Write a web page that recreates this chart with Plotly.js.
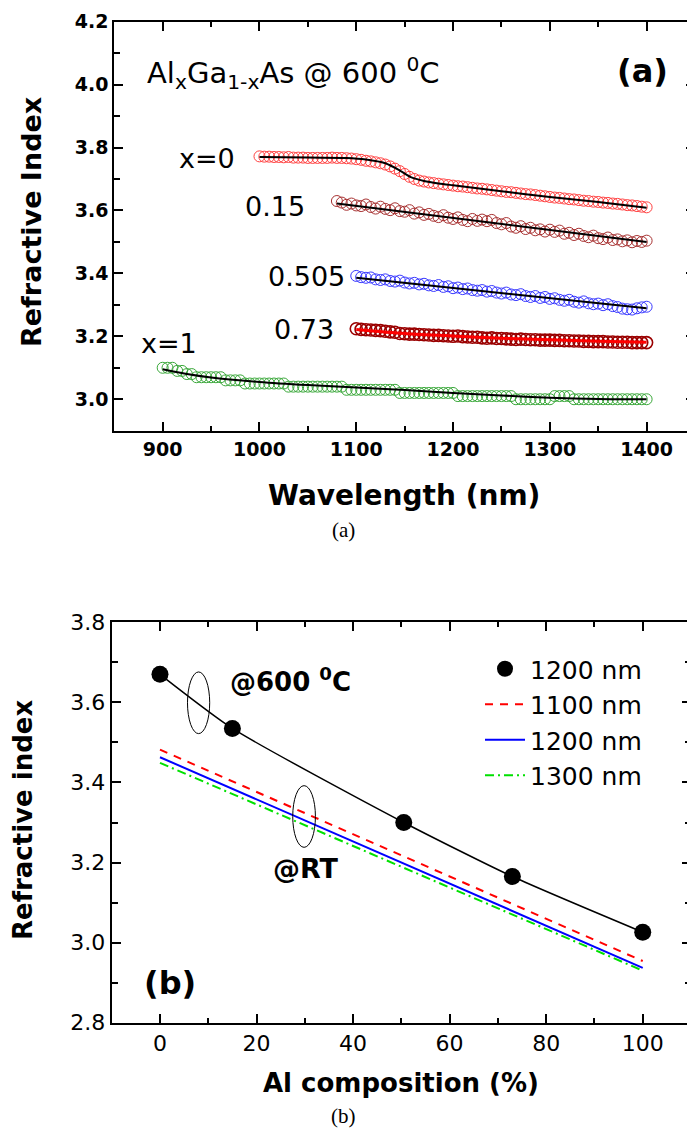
<!DOCTYPE html>
<html>
<head>
<meta charset="utf-8">
<script src="https://cdn.plot.ly/plotly-3.0.1.min.js"></script>
<style>
  html, body { margin: 0; padding: 0; background: #fff; overflow: hidden; }
  #plot { width: 700px; height: 1133px; }
</style>
</head>
<body>
<div id="plot"></div>
<script>
// ---------------- Panel (a) data: refractive index vs wavelength at 600 C ----------------
const WL = [900,905,910,915,920,925,930,935,940,945,950,955,960,965,970,975,980,985,990,995,
  1000,1005,1010,1015,1020,1025,1030,1035,1040,1045,1050,1055,1060,1065,1070,1075,1080,1085,1090,1095,
  1100,1105,1110,1115,1120,1125,1130,1135,1140,1145,1150,1155,1160,1165,1170,1175,1180,1185,1190,1195,
  1200,1205,1210,1215,1220,1225,1230,1235,1240,1245,1250,1255,1260,1265,1270,1275,1280,1285,1290,1295,
  1300,1305,1310,1315,1320,1325,1330,1335,1340,1345,1350,1355,1360,1365,1370,1375,1380,1385,1390,1395,1400];

const wl_x0   = WL.slice(20);   // 1000-1400
const wl_015  = WL.slice(36);   // 1080-1400
const wl_0505 = WL.slice(40);   // 1100-1400
const wl_073  = WL.slice(40);   // 1100-1400
const wl_x1   = WL;             // 900-1400

const n_x0 = [3.772,3.771,3.771,3.770,3.770,3.769,3.770,3.768,3.768,3.768,
  3.767,3.767,3.767,3.767,3.767,3.768,3.767,3.767,3.766,3.765,
  3.763,3.761,3.758,3.756,3.753,3.750,3.746,3.740,3.733,3.725,
  3.716,3.707,3.700,3.695,3.692,3.689,3.687,3.685,3.683,3.681,
  3.679,3.677,3.676,3.674,3.672,3.670,3.669,3.667,3.665,3.663,
  3.661,3.659,3.658,3.656,3.654,3.652,3.651,3.649,3.647,3.645,
  3.643,3.641,3.640,3.638,3.636,3.635,3.633,3.631,3.630,3.628,
  3.627,3.625,3.624,3.622,3.621,3.619,3.617,3.616,3.614,3.612,
  3.610];

const n_015 = [3.630,3.625,3.618,3.622,3.616,3.614,3.619,3.611,3.606,3.612,
  3.605,3.601,3.607,3.598,3.596,3.601,3.590,3.594,3.586,3.589,
  3.583,3.579,3.585,3.577,3.573,3.578,3.570,3.566,3.573,3.567,
  3.571,3.566,3.570,3.560,3.556,3.560,3.549,3.545,3.550,3.541,
  3.545,3.537,3.540,3.533,3.539,3.532,3.536,3.526,3.529,3.522,
  3.526,3.519,3.515,3.520,3.512,3.509,3.514,3.506,3.508,3.502,
  3.505,3.499,3.503,3.500,3.504];

const n_0505 = [3.392,3.388,3.386,3.387,3.381,3.379,3.381,3.376,3.374,3.377,
  3.371,3.368,3.370,3.365,3.367,3.362,3.360,3.363,3.357,3.359,
  3.353,3.355,3.350,3.352,3.347,3.345,3.347,3.342,3.344,3.339,
  3.336,3.339,3.333,3.331,3.334,3.328,3.325,3.328,3.322,3.325,
  3.319,3.321,3.316,3.313,3.316,3.310,3.307,3.311,3.305,3.302,
  3.304,3.299,3.302,3.296,3.293,3.288,3.286,3.285,3.289,3.292,
  3.294];

const n_073 = [3.224,3.222,3.221,3.220,3.219,3.218,3.216,3.214,3.213,3.209,
  3.208,3.207,3.207,3.206,3.205,3.204,3.203,3.203,3.202,3.201,
  3.200,3.201,3.199,3.198,3.197,3.197,3.195,3.194,3.195,3.193,
  3.193,3.192,3.191,3.190,3.191,3.190,3.189,3.189,3.188,3.188,
  3.188,3.187,3.187,3.186,3.186,3.185,3.185,3.184,3.184,3.183,
  3.183,3.183,3.182,3.182,3.181,3.181,3.181,3.180,3.180,3.180,
  3.180];

const n_x1 = [3.10,3.10,3.10,3.09,3.09,3.08,3.08,3.07,3.07,3.07,3.07,3.07,3.07,
  3.06,3.06,3.06,3.06,
  3.05,3.05,3.05,3.05,3.05,3.05,3.05,3.05,3.05,
  3.04,3.04,3.04,3.04,3.04,3.04,3.04,3.04,3.04,3.04,3.04,3.04,
  3.03,3.03,3.03,3.03,3.03,3.03,3.03,3.03,3.03,3.03,3.03,
  3.02,3.02,3.02,3.02,3.02,3.02,3.02,3.02,3.02,3.02,3.02,3.02,
  3.01,3.01,3.01,3.01,3.01,3.01,3.01,3.01,3.01,3.01,3.01,3.01,
  3.00,3.00,3.00,3.00,3.00,3.00,3.00,3.00,
  3.01,3.01,3.01,3.01,
  3.00,3.00,3.00,3.00,3.00,3.00,3.00,3.00,3.00,3.00,3.00,3.00,3.00,3.00,3.00,3.00];

// fitted curves (panel a)
const fit_x0_wl = [1000,1050,1090,1110,1130,1145,1157,1170,1185,1200,1250,1300,1350,1400];
const fit_x0_n  = [3.770,3.768,3.767,3.762,3.750,3.727,3.705,3.694,3.686,3.680,3.661,3.643,3.627,3.609];
const fit_015_wl = [1080,1400];
const fit_015_n  = [3.622,3.500];
const fit_0505_wl = [1100,1400];
const fit_0505_n  = [3.386,3.289];
const fit_073_wl = [1100,1150,1200,1250,1300,1350,1400];
const fit_073_n  = [3.222,3.209,3.201,3.194,3.189,3.184,3.181];
const fit_x1_wl = [900,925,950,1000,1050,1100,1150,1200,1250,1300,1350,1400];
const fit_x1_n  = [3.095,3.080,3.069,3.055,3.045,3.037,3.029,3.020,3.012,3.005,3.001,3.000];

// ---------------- Panel (b) data: refractive index vs Al composition ----------------
const alComp = [0, 15, 50.5, 73, 100];
const n600_1200 = [3.670, 3.535, 3.300, 3.165, 3.026];
const rtComp = [0, 100];
const nRT_1100 = [3.482, 2.954];
const nRT_1200 = [3.463, 2.937];
const nRT_1300 = [3.449, 2.930];
const legendNames = ['1200 nm', '1100 nm', '1200 nm', '1300 nm'];

// ---------------- layout helpers ----------------
const W = 700, H = 1133;
const px = v => v / W;
const py = v => 1 - v / H;
const FONT = 'DejaVu Sans, Arial, sans-serif';
const SERIF = 'Liberation Serif, Times New Roman, serif';

function circles(x, y, color, lw, size, xa, ya) {
  return {x: x, y: y, type: 'scatter', mode: 'markers', showlegend: false, xaxis: xa, yaxis: ya,
    marker: {symbol: 'circle-open', size: size, color: color, line: {color: color, width: lw}},
    hoverinfo: 'skip'};
}
function fitLine(x, y, color, w, shape) {
  return {x: x, y: y, type: 'scatter', mode: 'lines', showlegend: false, xaxis: 'x', yaxis: 'y',
    line: {color: color, width: w, shape: shape || 'linear', smoothing: 0.8}, hoverinfo: 'skip'};
}

const traces = [
  circles(wl_x0, n_x0, '#ff4040', 1, 11, 'x', 'y'),
  circles(wl_015, n_015, '#a83232', 1, 11, 'x', 'y'),
  circles(wl_0505, n_0505, '#3a3aff', 1, 11, 'x', 'y'),
  circles(wl_073, n_073, '#9a0000', 1.6, 12, 'x', 'y'),
  circles(wl_x1, n_x1, '#3aa83a', 1, 11, 'x', 'y'),
  fitLine(fit_x0_wl, fit_x0_n, '#000', 2, 'spline'),
  fitLine(fit_015_wl, fit_015_n, '#000', 2),
  fitLine(fit_0505_wl, fit_0505_n, '#000', 2),
  fitLine(fit_073_wl, fit_073_n, '#ff0000', 3, 'spline'),
  fitLine(fit_x1_wl, fit_x1_n, '#000', 2, 'spline'),
  // panel (b)
  {x: alComp, y: n600_1200, type: 'scatter', mode: 'lines', xaxis: 'x2', yaxis: 'y2', showlegend: false,
   line: {color: '#000', width: 1.5, shape: 'spline', smoothing: 0.6}, hoverinfo: 'skip'},
  {x: alComp, y: n600_1200, type: 'scatter', mode: 'markers', xaxis: 'x2', yaxis: 'y2', name: legendNames[0],
   marker: {symbol: 'circle', size: 17, color: '#000'}},
  {x: rtComp, y: nRT_1100, type: 'scatter', mode: 'lines', xaxis: 'x2', yaxis: 'y2', name: legendNames[1],
   line: {color: '#ff0000', width: 2, dash: '8px,7px'}},
  {x: rtComp, y: nRT_1200, type: 'scatter', mode: 'lines', xaxis: 'x2', yaxis: 'y2', name: legendNames[2],
   line: {color: '#0000ff', width: 2}},
  {x: rtComp, y: nRT_1300, type: 'scatter', mode: 'lines', xaxis: 'x2', yaxis: 'y2', name: legendNames[3],
   line: {color: '#00e000', width: 2, dash: '9px,4px,2px,4px'}}
];

const axBase = {
  showline: true, linewidth: 2, linecolor: '#000', mirror: 'ticks',
  ticks: 'inside', ticklen: 9, tickwidth: 2, tickcolor: '#000',
  showgrid: false, zeroline: false, fixedrange: true
};

function ann(text, x, y, size, bold, opts) {
  return Object.assign({text: bold ? '<b>' + text + '</b>' : text, xref: 'paper', yref: 'paper',
    x: px(x), y: py(y), xanchor: 'center', yanchor: 'middle', showarrow: false,
    font: {family: FONT, size: size, color: '#000'}}, opts || {});
}

const layout = {
  width: W, height: H,
  margin: {l: 0, r: 0, t: 0, b: 0},
  paper_bgcolor: '#fff', plot_bgcolor: '#fff',
  showlegend: true,
  legend: {x: px(480), y: py(646), xanchor: 'left', yanchor: 'top', bgcolor: 'rgba(0,0,0,0)',
    font: {family: FONT, size: 25, color: '#000'}, itemwidth: 40, tracegroupgap: 0},
  xaxis: Object.assign({}, axBase, {
    domain: [px(114.3), px(695)], range: [850, 1450], anchor: 'y',
    tick0: 900, dtick: 100,
    minor: {dtick: 50, ticks: 'inside', ticklen: 5, tickwidth: 2, tickcolor: '#000'},
    tickfont: {family: FONT, size: 19, color: '#000', weight: 'bold'}
  }),
  yaxis: Object.assign({}, axBase, {
    domain: [py(430.7), py(21.7)], range: [2.9, 4.2], anchor: 'x',
    tick0: 3.0, dtick: 0.2, tickformat: '.1f',
    minor: {dtick: 0.1, ticks: 'inside', ticklen: 6, tickwidth: 2, tickcolor: '#000'},
    tickfont: {family: FONT, size: 19, color: '#000', weight: 'bold'}
  }),
  xaxis2: Object.assign({}, axBase, {
    domain: [px(111.7), px(691)], range: [-10, 110], anchor: 'y2',
    tick0: 0, dtick: 20,
    minor: {dtick: 10, ticks: 'inside', ticklen: 5, tickwidth: 2, tickcolor: '#000'},
    tickfont: {family: FONT, size: 22, color: '#000'}
  }),
  yaxis2: Object.assign({}, axBase, {
    domain: [py(1022.7), py(622.3)], range: [2.8, 3.8], anchor: 'x2',
    tick0: 2.8, dtick: 0.2, tickformat: '.1f',
    minor: {dtick: 0.1, ticks: 'inside', ticklen: 6, tickwidth: 2, tickcolor: '#000'},
    tickfont: {family: FONT, size: 22, color: '#000'}
  }),
  annotations: [
    // panel (a)
    ann('Wavelength (nm)', 404, 495, 28, true),
    ann('Refractive Index', 31, 222, 27, true, {textangle: -90}),
    ann('Al<sub>x</sub>Ga<sub>1-x</sub>As @ 600 <sup>0</sup>C', 145, 73, 29, false, {xanchor: 'left'}),
    ann('(a)', 642, 71, 32, true),
    ann('x=0', 207, 158, 27, false),
    ann('0.15', 275, 206, 27, false),
    ann('0.505', 306, 276, 27, false),
    ann('0.73', 304, 329, 27, false),
    ann('x=1', 169, 343, 27, false),
    // panel (b)
    ann('Al composition (%)', 401, 1083, 26, true),
    ann('Refractive index', 23, 820, 26, true, {textangle: -90}),
    ann('@600 <sup>0</sup>C', 290, 680, 26, true),
    ann('@RT', 306, 868, 27, true),
    ann('(b)', 170, 983, 32, true),
    // captions
    ann('(a)', 343, 530, 21, false, {font: {family: SERIF, size: 21, color: '#000'}}),
    ann('(b)', 343, 1116, 21, false, {font: {family: SERIF, size: 21, color: '#000'}})
  ],
  shapes: [
    {type: 'circle', xref: 'x2', yref: 'y2', x0: 5.7, x1: 10.3, y0: 3.522, y1: 3.676, line: {color: '#000', width: 1}},
    {type: 'circle', xref: 'x2', yref: 'y2', x0: 27.5, x1: 32.2, y0: 3.238, y1: 3.392, line: {color: '#000', width: 1}}
  ]
};

Plotly.newPlot('plot', traces, layout, {displayModeBar: false, staticPlot: true});
</script>
</body>
</html>
